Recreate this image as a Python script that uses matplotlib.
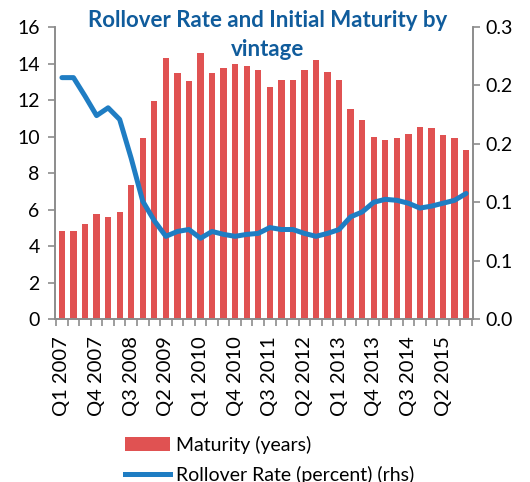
import matplotlib
matplotlib.use("Agg")
import matplotlib.pyplot as plt
import numpy as np
from matplotlib.patches import Patch
from matplotlib.lines import Line2D
from matplotlib.ticker import FuncFormatter

plt.rcParams['font.family'] = ['Lato', 'DejaVu Sans']

years = list(range(2007, 2016))
quarters = [f"Q{q} {y}" for y in years for q in range(1, 5)]

maturity = [4.85, 4.85, 5.2, 5.75, 5.6, 5.85, 7.35, 9.9, 11.95, 14.3,
            13.5, 13.05, 14.55, 13.5, 13.75, 14.0, 13.85, 13.65, 12.7, 13.1,
            13.1, 13.65, 14.2, 13.55, 13.1, 11.5, 10.9, 9.98, 9.82, 9.9,
            10.15, 10.5, 10.45, 10.07, 9.9, 9.27]

rollover = [0.248, 0.248, 0.229, 0.209, 0.217, 0.205, 0.165, 0.121, 0.101, 0.085,
            0.090, 0.092, 0.083, 0.090, 0.087, 0.085, 0.087, 0.088, 0.094, 0.092,
            0.092, 0.088, 0.085, 0.088, 0.092, 0.105, 0.110, 0.120, 0.123, 0.122,
            0.119, 0.114, 0.116, 0.119, 0.122, 0.129]

bar_color = '#E05252'
line_color = '#1F7DC3'
title_color = '#105C9C'
spine_color = '#8C8C8C'

fig = plt.figure(figsize=(5.30, 4.82), dpi=100)
ax = fig.add_axes([0.1038, 0.338, 0.7887, 0.606])
ax2 = ax.twinx()

x = np.arange(len(quarters))
ax.bar(x, maturity, width=0.55, color=bar_color, zorder=2)
ax2.plot(x, rollover, color=line_color, lw=3.6, zorder=3, solid_capstyle='round')

ax.set_xlim(-0.6, len(quarters) - 0.4)
ax.set_ylim(0, 16)
ax.set_yticks(np.arange(0, 17, 2))
ax2.set_ylim(0, 0.3)
ax2.set_yticks(np.linspace(0, 0.3, 6))
ax2.yaxis.set_major_formatter(FuncFormatter(lambda v, p: f"{v:.1f}"))

ax.set_xticks(x[::3])
ax.set_xticklabels(quarters[::3], rotation=90, fontsize=14.5)
ax.set_xticks(np.arange(-0.5, len(quarters), 1), minor=True)
ax.tick_params(axis='x', which='major', length=0, pad=12)
ax.tick_params(axis='x', which='minor', length=5, color=spine_color, width=1.2)
ax.tick_params(axis='y', length=5, color=spine_color, width=1.2, labelsize=14, pad=6)
ax2.tick_params(axis='y', length=5, color=spine_color, width=1.2, labelsize=14, pad=4)

for a in (ax, ax2):
    a.spines['top'].set_visible(False)
    for s in ('left', 'right', 'bottom'):
        a.spines[s].set_color(spine_color)
        a.spines[s].set_linewidth(1.2)

fig.text(0.505, 0.957, "Rollover Rate and Initial Maturity by", ha='center', va='center',
         fontsize=16, fontweight='bold', color=title_color)
fig.text(0.505, 0.897, "vintage", ha='center', va='center',
         fontsize=16, fontweight='bold', color=title_color)

handles = [Patch(facecolor=bar_color, edgecolor='none'),
           Line2D([0], [0], color=line_color, lw=3.6)]
labels = ['Maturity (years)', 'Rollover Rate (percent) (rhs)']
fig.legend(handles, labels, loc='upper left', bbox_to_anchor=(0.222, 0.112),
           frameon=False, fontsize=14, handlelength=2.3, handletextpad=0.3,
           labelspacing=0.6, borderaxespad=0)

fig.savefig('out.png', dpi=100)
